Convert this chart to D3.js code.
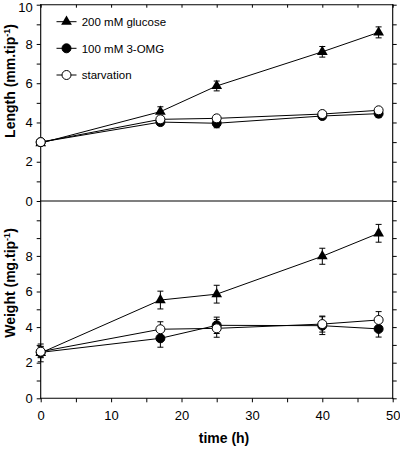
<!DOCTYPE html>
<html><head><meta charset="utf-8">
<script src="https://cdn.jsdelivr.net/npm/d3@7"></script>
<style>body{margin:0;background:#fff}svg{display:block}</style>
</head><body><svg id="c" width="400" height="451"></svg>
<script>
const times = [0, 17, 25, 40, 48];
const seriesNames = ["200 mM glucose", "100 mM 3-OMG", "starvation"];
const lenGlucose = [2.95, 4.55, 5.86, 7.6, 8.59];
const lenGlucoseErr = [0.1, 0.25, 0.25, 0.27, 0.28];
const lenOMG = [3.0, 4.02, 3.96, 4.33, 4.45];
const lenOMGErr = [0.1, 0.15, 0.23, 0.15, 0.2];
const lenStarv = [3.0, 4.16, 4.21, 4.43, 4.62];
const lenStarvErr = [0.1, 0.15, 0.15, 0.12, 0.12];
const wGlucose = [2.55, 5.52, 5.85, 7.98, 9.27];
const wGlucoseErr = [0.5, 0.5, 0.5, 0.45, 0.5];
const wOMG = [2.58, 3.37, 4.1, 4.08, 3.9];
const wOMGErr = [0.3, 0.5, 0.46, 0.5, 0.46];
const wStarv = [2.62, 3.88, 3.93, 4.17, 4.4];
const wStarvErr = [0.3, 0.42, 0.5, 0.45, 0.47];
const xTicks = [0, 5, 10, 15, 20, 25, 30, 35, 40, 45, 50];
const xLabels = [0, 10, 20, 30, 40, 50];
const topTicks = [0,1,2,3,4,5,6,7,8,9,10];
const topLabels = [0, 2, 4, 6, 8, 10];
const botTicks = [0,1,2,3,4,5,6,7,8,9,10];
const botLabels = [0, 2, 4, 6, 8];

const svg = d3.select("#c");
const FONT = "Liberation Sans, Arial, Helvetica, sans-serif";
const L = 40.7, R = 392.7, T = 4.7, MID = 201, B = 398.3;
const x = d3.scaleLinear([0, 50], [L, R]);
const yTop = d3.scaleLinear([0, 10], [MID, T]);
const yBot = d3.scaleLinear([0, 10], [B, B - 178]);

function styleAxis(g) {
  g.select(".domain").remove();
  g.selectAll("line").attr("stroke", "#000").attr("stroke-width", 1);
  g.selectAll("text").attr("font-family", FONT).attr("font-size", 13).attr("fill", "#000");
}
// top panel axes
const topLeft = svg.append("g").attr("transform", `translate(${L},0)`)
  .call(d3.axisLeft(yTop).tickValues(topTicks).tickSize(4).tickPadding(4)
    .tickFormat(d => topLabels.includes(d) ? d : ""))
  .call(styleAxis);
topLeft.selectAll(".tick text").filter(d => d === 10).attr("dy", "0.5em");
svg.append("g").attr("transform", `translate(${R},0)`)
  .call(d3.axisRight(yTop).tickValues(topTicks).tickSize(4).tickFormat(""))
  .call(styleAxis);
svg.append("g").attr("transform", `translate(0,${T})`)
  .call(d3.axisBottom(x).tickValues(xTicks).tickSize(3).tickFormat(""))
  .call(styleAxis);
// bottom panel axes
svg.append("g").attr("transform", `translate(${L},0)`)
  .call(d3.axisLeft(yBot).tickValues(botTicks).tickSize(4).tickPadding(4)
    .tickFormat(d => botLabels.includes(d) ? d : ""))
  .call(styleAxis);
svg.append("g").attr("transform", `translate(${R},0)`)
  .call(d3.axisRight(yBot).tickValues(botTicks).tickSize(4).tickFormat(""))
  .call(styleAxis);
svg.append("g").attr("transform", `translate(0,${B})`)
  .call(d3.axisBottom(x).tickValues(xTicks).tickSize(4).tickPadding(8)
    .tickFormat(d => xLabels.includes(d) ? d : ""))
  .call(styleAxis);

// frame
const frame = [[L, T, R, T], [L, T, L, B], [R, T, R, B], [L, MID, R, MID], [L, B, R, B]];
svg.append("g").selectAll("line").data(frame).join("line")
  .attr("x1", d => d[0]).attr("y1", d => d[1]).attr("x2", d => d[2]).attr("y2", d => d[3])
  .attr("stroke", "#000").attr("stroke-width", 1.1).attr("stroke-linecap", "square");

// axis titles
function yTitle(txt, cx, cy) {
  const t = svg.append("text").attr("transform", `translate(${cx},${cy}) rotate(-90)`)
    .attr("text-anchor", "middle").attr("font-family", FONT).attr("font-weight", "bold")
    .attr("font-size", 14).attr("fill", "#000");
  t.append("tspan").text(txt);
  t.append("tspan").attr("font-size", 9).attr("dy", -5).text("-1");
  t.append("tspan").attr("dy", 5).text(")");
}
yTitle("Length (mm.tip", 14.5, 81);
yTitle("Weight (mg.tip", 14.5, 283);
svg.append("text").attr("x", 224).attr("y", 443).attr("text-anchor", "middle")
  .attr("font-family", FONT).attr("font-weight", "bold").attr("font-size", 14).text("time (h)");

const tri = d3.symbol().type(d3.symbolTriangle).size(50);
const circ = 4.5;
function drawSeries(ys, vals, errs, kind) {
  const g = svg.append("g");
  const pts = times.map((t, i) => ({t, v: vals[i], e: errs[i]}));
  g.append("path").datum(pts)
    .attr("d", d3.line().x(d => x(d.t)).y(d => ys(d.v)))
    .attr("fill", "none").attr("stroke", "#000").attr("stroke-width", 1);
  const eb = g.selectAll("g.eb").data(pts).join("g");
  eb.append("line").attr("x1", d => x(d.t)).attr("x2", d => x(d.t))
    .attr("y1", d => ys(d.v - d.e)).attr("y2", d => ys(d.v + d.e));
  eb.append("line").attr("x1", d => x(d.t) - 3).attr("x2", d => x(d.t) + 3)
    .attr("y1", d => ys(d.v + d.e)).attr("y2", d => ys(d.v + d.e));
  eb.append("line").attr("x1", d => x(d.t) - 3).attr("x2", d => x(d.t) + 3)
    .attr("y1", d => ys(d.v - d.e)).attr("y2", d => ys(d.v - d.e));
  eb.selectAll("line").attr("stroke", "#000").attr("stroke-width", 1);
  marker(g.selectAll("m").data(pts).join("g")
    .attr("transform", d => `translate(${x(d.t)},${ys(d.v)})`), kind);
}
function marker(sel, kind) {
  if (kind === 0) sel.append("path").attr("d", tri).attr("fill", "#000");
  else sel.append("circle").attr("r", circ).attr("fill", kind === 1 ? "#000" : "#fff")
    .attr("stroke", "#000").attr("stroke-width", 1);
}
drawSeries(yTop, lenGlucose, lenGlucoseErr, 0);
drawSeries(yTop, lenOMG, lenOMGErr, 1);
drawSeries(yTop, lenStarv, lenStarvErr, 2);
drawSeries(yBot, wGlucose, wGlucoseErr, 0);
drawSeries(yBot, wOMG, wOMGErr, 1);
drawSeries(yBot, wStarv, wStarvErr, 2);

// legend
const legY = [21.7, 48.3, 75];
const lg = svg.append("g").selectAll("g").data(seriesNames).join("g")
  .attr("transform", (d, i) => `translate(0,${legY[i]})`);
lg.append("line").attr("x1", 56.5).attr("x2", 76.5).attr("stroke", "#000").attr("stroke-width", 1);
lg.each(function(d, i) {
  marker(d3.select(this).append("g").attr("transform", "translate(66.5,0)"), i);
});
lg.append("text").attr("x", 81.7).attr("y", 4.2).attr("font-family", FONT)
  .attr("font-size", 11.5).attr("fill", "#000").text(d => d);
</script></body></html>
